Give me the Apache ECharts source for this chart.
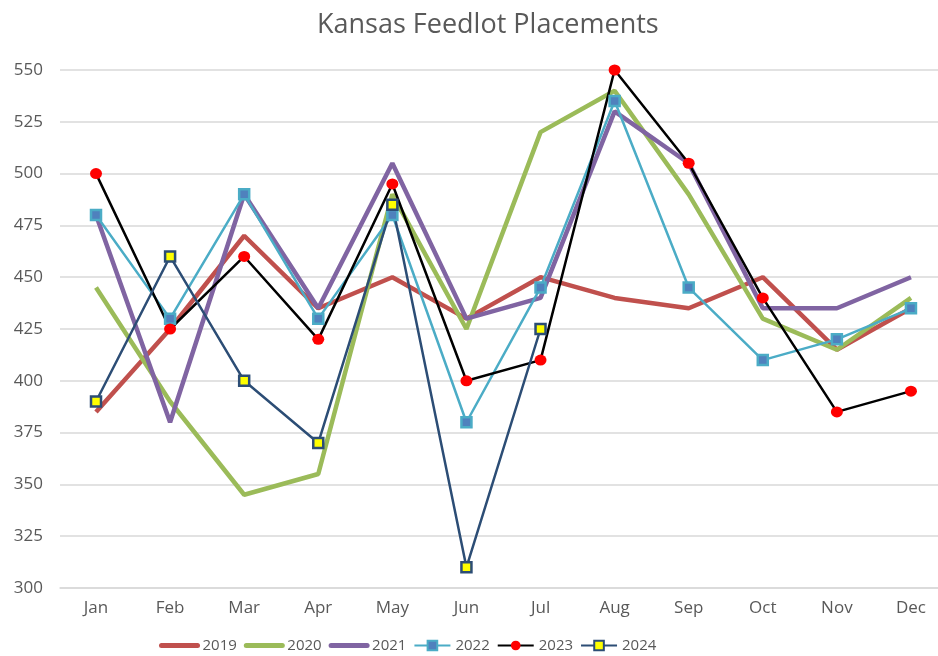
<!DOCTYPE html>
<html>
<head>
<meta charset="utf-8">
<title>Kansas Feedlot Placements</title>
<script src="https://cdn.jsdelivr.net/npm/echarts@6/dist/echarts.min.js"></script>
<style>
  html, body { margin: 0; padding: 0; background: #fff; }
  #chart { width: 938px; height: 656px; }
</style>
</head>
<body>
<div id="chart"></div>
<script>
// 月份
var months = ['Jan', 'Feb', 'Mar', 'Apr', 'May', 'Jun', 'Jul', 'Aug', 'Sep', 'Oct', 'Nov', 'Dec'];

// 每年数据
var y2019 = [385, 425, 470, 435, 450, 430, 450, 440, 435, 450, 415, 435];
var y2020 = [445, 390, 345, 355, 490, 425, 520, 540, 490, 430, 415, 440];
var y2021 = [480, 380, 490, 435, 505, 430, 440, 530, 505, 435, 435, 450];
var y2022 = [480, 430, 490, 430, 480, 380, 445, 535, 445, 410, 420, 435];
var y2023 = [500, 425, 460, 420, 495, 400, 410, 550, 505, 440, 385, 395];
var y2024 = [390, 460, 400, 370, 485, 310, 425, null, null, null, null, null];

var yTicks = [300, 325, 350, 375, 400, 425, 450, 475, 500, 525, 550];

var textColor = '#595959';
var font = 'Open Sans';

var myChart = echarts.init(document.getElementById('chart'));

// 月份序号 -> [x, y]，右侧绘图区被截掉一截，所以 x 用数值轴
function pairs(arr) {
    return arr.map(function (v, i) { return [i, v]; });
}
var monthIdx = months.map(function (m, i) { return i; });

// 粗线（无标记）
function plainLine(name, data, color) {
    return {
        name: name,
        type: 'line',
        data: pairs(data),
        symbol: 'none',
        lineStyle: { color: color, width: 4.5 },
        itemStyle: { color: color },
        animation: false
    };
}

// 图例里粗线不要圆点
function noDot(name) {
    return {
        name: name,
        itemStyle: { color: 'rgba(0,0,0,0)', borderWidth: 0, opacity: 0 },
        lineStyle: { width: 5, cap: 'round' }
    };
}

var option = {
    backgroundColor: '#fff',
    title: {
        text: 'Kansas Feedlot Placements',
        left: 312,
        top: 7,
        textStyle: { color: textColor, fontFamily: font, fontSize: 27, fontWeight: 'normal' }
    },
    legend: {
        top: 638,
        left: 159,
        padding: 0,
        itemWidth: 36,
        itemHeight: 12,
        itemGap: 7,
        textStyle: { color: textColor, fontFamily: font, fontSize: 15 },
        data: [noDot('2019'), noDot('2020'), noDot('2021'), '2022', '2023', '2024']
    },
    grid: { left: 60, right: 0, top: 70, bottom: 68, containLabel: false },
    xAxis: {
        type: 'value',
        min: -0.486,
        max: 11.365,
        axisLine: { show: true, lineStyle: { color: '#D9D9D9', width: 1.5 } },
        axisTick: { show: false },
        splitLine: { show: false },
        axisLabel: {
            color: textColor, fontFamily: font, fontSize: 17, margin: 12,
            customValues: monthIdx,
            formatter: function (v) { return months[Math.round(v)]; }
        }
    },
    yAxis: {
        type: 'value',
        min: yTicks[0],
        max: yTicks[yTicks.length - 1],
        interval: 25,
        axisLine: { show: false },
        axisTick: { show: false },
        axisLabel: { color: textColor, fontFamily: font, fontSize: 17, margin: 17 },
        splitLine: { lineStyle: { color: '#D9D9D9', width: 1.5 } }
    },
    series: [
        plainLine('2019', y2019, '#C0504D'),
        plainLine('2020', y2020, '#9BBB59'),
        plainLine('2021', y2021, '#8064A2'),
        {
            name: '2022',
            type: 'line',
            data: pairs(y2022),
            symbol: 'rect',
            symbolSize: 10,
            lineStyle: { color: '#4BACC6', width: 2.5 },
            itemStyle: { color: '#4F81BD', borderColor: '#4BACC6', borderWidth: 2.5 },
            animation: false
        },
        {
            name: '2023',
            type: 'line',
            data: pairs(y2023),
            symbol: 'circle',
            symbolSize: [12, 11],
            lineStyle: { color: '#000', width: 2.5 },
            itemStyle: { color: '#FF0000', borderWidth: 0 },
            animation: false
        },
        {
            name: '2024',
            type: 'line',
            data: pairs(y2024),
            symbol: 'rect',
            symbolSize: 10,
            lineStyle: { color: '#2C4D75', width: 2.5 },
            itemStyle: { color: '#FFFF00', borderColor: '#2C4D75', borderWidth: 2.5 },
            animation: false
        }
    ]
};

myChart.setOption(option);
</script>
</body>
</html>
